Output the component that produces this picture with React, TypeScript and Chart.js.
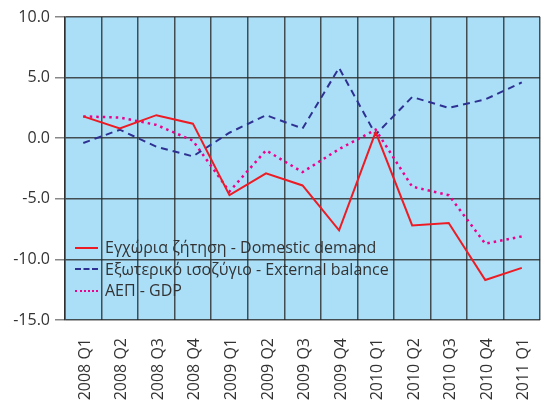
import React, { useEffect, useRef } from "react";
import { Chart, registerables } from "chart.js";

Chart.register(...registerables);

const categories = [
  "2008 Q1", "2008 Q2", "2008 Q3", "2008 Q4",
  "2009 Q1", "2009 Q2", "2009 Q3", "2009 Q4",
  "2010 Q1", "2010 Q2", "2010 Q3", "2010 Q4",
  "2011 Q1",
];

const domesticDemand = [1.8, 0.8, 1.9, 1.2, -4.7, -2.9, -3.9, -7.6, 0.5, -7.2, -7.0, -11.7, -10.7];
const externalBalance = [-0.4, 0.7, -0.7, -1.5, 0.45, 1.9, 0.8, 5.8, 0.3, 3.4, 2.5, 3.2, 4.6];
const gdp = [1.8, 1.7, 1.1, -0.2, -4.4, -1.0, -2.8, -0.9, 0.7, -4.0, -4.7, -8.7, -8.1];

const seriesLabels = [
  "Εγχώρια ζήτηση - Domestic demand",
  "Εξωτερικό ισοζύγιο - External balance",
  "ΑΕΠ - GDP",
];

const RED = "#ed1c24";
const BLUE = "#2e3192";
const MAGENTA = "#ec008c";
const BG = "#abdff8";
const FONT = "'Open Sans', sans-serif";

const bgPlugin = {
  id: "areaBg",
  beforeDraw(chart: any) {
    const { ctx, chartArea } = chart;
    ctx.save();
    ctx.fillStyle = BG;
    ctx.fillRect(chartArea.left, chartArea.top, chartArea.right - chartArea.left, chartArea.bottom - chartArea.top);
    ctx.restore();
  },
};

export default function App() {
  const ref = useRef<HTMLCanvasElement | null>(null);

  useEffect(() => {
    if (!ref.current) return;
    const chart = new Chart(ref.current, {
      type: "line",
      data: {
        labels: categories,
        datasets: [
          {
            label: seriesLabels[0],
            data: domesticDemand,
            borderColor: RED,
            backgroundColor: RED,
            borderWidth: 2,
            pointRadius: 0,
            tension: 0,
          },
          {
            label: seriesLabels[1],
            data: externalBalance,
            borderColor: BLUE,
            backgroundColor: BLUE,
            borderWidth: 2,
            borderDash: [7, 5],
            pointRadius: 0,
            tension: 0,
          },
          {
            label: seriesLabels[2],
            data: gdp,
            borderColor: MAGENTA,
            backgroundColor: MAGENTA,
            borderWidth: 2.5,
            borderDash: [2.5, 4],
            pointRadius: 0,
            tension: 0,
          },
        ],
      },
      options: {
        responsive: false,
        animation: false,
        devicePixelRatio: 1,
        layout: { padding: { top: 17, left: 0, right: 0, bottom: 0 } },
        plugins: {
          legend: { display: false },
          tooltip: { enabled: false },
        },
        scales: {
          x: {
            type: "category",
            offset: true,
            grid: {
              offset: true,
              color: "rgba(40,40,40,0.8)",
              lineWidth: 1.5,
              drawTicks: false,
            },
            border: { display: false },
            ticks: {
              minRotation: 90,
              maxRotation: 90,
              autoSkip: false,
              padding: 18,
              labelOffset: 2,
              color: "#333",
              font: { family: FONT, size: 16 },
            },
            afterFit(scale: any) {
              scale.height = 82;
            },
          },
          y: {
            min: -15,
            max: 10,
            grid: {
              color: "rgba(40,40,40,0.8)",
              lineWidth: 1.5,
              tickLength: 10,
              tickColor: "#888",
            },
            border: { display: true, color: "rgba(40,40,40,0.8)", width: 1.5 },
            ticks: {
              stepSize: 5,
              padding: 5,
              color: "#333",
              font: { family: FONT, size: 16 },
              callback: (v: any) => Number(v).toFixed(1),
            },
            afterFit(scale: any) {
              scale.width = 65;
            },
          },
        },
      },
      plugins: [bgPlugin],
    });
    return () => chart.destroy();
  }, []);

  const legendItems = [
    { label: seriesLabels[0], color: RED, style: "solid", width: 2 },
    { label: seriesLabels[1], color: BLUE, style: "dashed", width: 2 },
    { label: seriesLabels[2], color: MAGENTA, style: "dotted", width: 2 },
  ];

  return (
    <div style={{ position: "fixed", left: 0, top: 0, width: 559, height: 402, background: "#fff" }}>
      <canvas ref={ref} width={559} height={402} style={{ display: "block", width: 559, height: 402 }} />
      <div
        style={{
          position: "absolute",
          left: 75,
          top: 237,
          fontFamily: FONT,
          fontSize: 16,
          color: "#333",
          lineHeight: "21.5px",
          whiteSpace: "nowrap",
        }}
      >
        {legendItems.map((it) => (
          <div key={it.label} style={{ display: "flex", alignItems: "center", height: 21.5 }}>
            <span
              style={{
                display: "inline-block",
                width: 23,
                height: 0,
                borderTop: `${it.width}px ${it.style} ${it.color}`,
                marginRight: 7,
              }}
            />
            <span>{it.label}</span>
          </div>
        ))}
      </div>
    </div>
  );
}
